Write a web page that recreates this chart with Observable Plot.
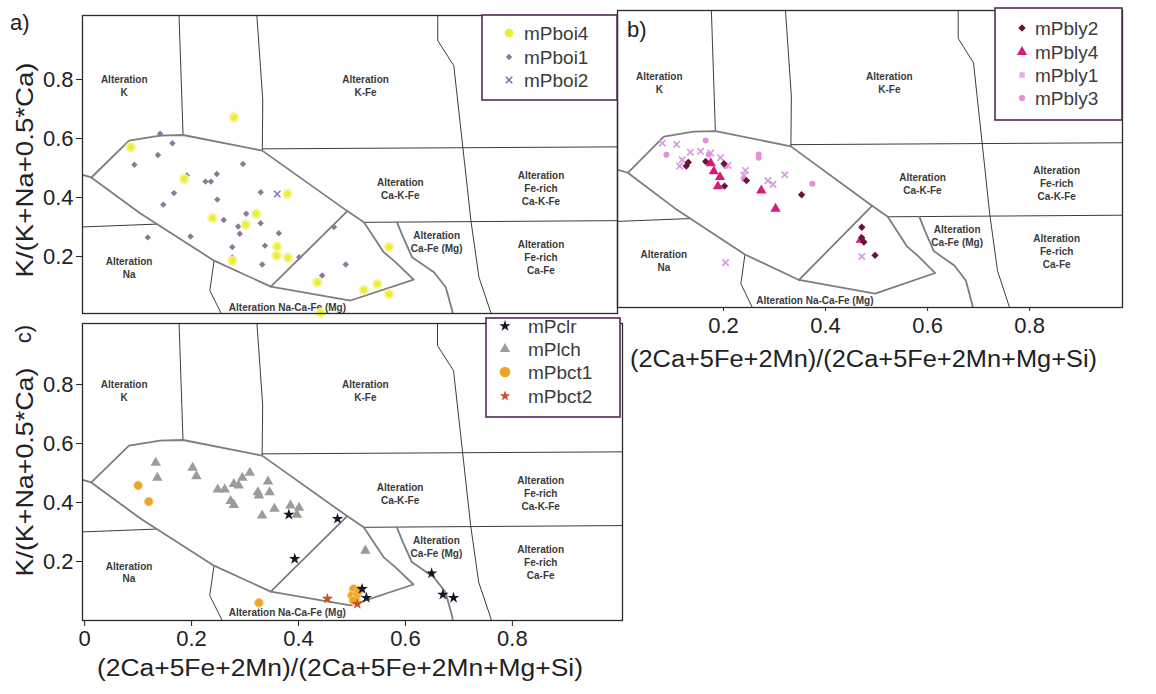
<!DOCTYPE html>
<html><head><meta charset="utf-8">
<script src="https://cdn.jsdelivr.net/npm/d3@7"></script>
<script src="https://cdn.jsdelivr.net/npm/@observablehq/plot@0.6"></script>
<style>
body{margin:0;background:#fff;}
#wrap{position:relative;width:1156px;height:694px;overflow:hidden;background:#fff;}
#wrap > svg{position:absolute;}
</style></head><body><div id="wrap"></div>
<script>
// ---------- tick values ----------
const xTicksC = [0, 0.2, 0.4, 0.6, 0.8];
const xTicksB = [0.2, 0.4, 0.6, 0.8];
const yTicks = [0.2, 0.4, 0.6, 0.8];

// ---------- field boundaries (data units) ----------
const lensOutline = [[0.0125,0.468],[0.083,0.593],[0.141,0.610],[0.184,0.612],[0.332,0.559],[0.491,0.354],[0.522,0.316],[0.559,0.215],[0.581,0.181],[0.615,0.122],[0.497,0.051],[0.348,0.098],[0.242,0.186],[0.105,0.345],[0.022,0.455],[0.0125,0.468]];
const lensDivider = [[0.348,0.098],[0.491,0.354]];
const lensTip = [[-0.01,0.48],[0.0125,0.468]];
const caFeMgEdge = [[0.584,0.316],[0.594,0.271],[0.612,0.198],[0.653,0.147],[0.675,0.096],[0.687,0.017],[0.690,-0.01]];
const vertical1 = [[0.176,1.04],[0.184,0.612]];
const vertical2 = [[0.321,1.04],[0.333,0.73],[0.332,0.559]];
const vertical3 = [[0.660,1.04],[0.660,0.932],[0.690,0.847],[0.707,0.569],[0.722,0.322],[0.737,0.13],[0.763,-0.01]];
const kfeLine = [[0.332,0.565],[1.02,0.572]];
const cafeLine = [[0.522,0.316],[1.02,0.322]];
const naLine = [[-0.01,0.30],[0.135,0.31]];
const naCaFeEdge = [[0.242,0.186],[0.234,0.085],[0.260,-0.01]];

// ---------- field labels ----------
const fieldLabelText = ["Alteration\nK","Alteration\nK-Fe","Alteration\nCa-K-Fe","Alteration\nFe-rich\nCa-K-Fe","Alteration\nCa-Fe (Mg)","Alteration\nFe-rich\nCa-Fe","Alteration\nNa","Alteration Na-Ca-Fe (Mg)"];
const fieldLabelX = [0.074,0.525,0.590,0.853,0.658,0.853,0.083,0.379];
const fieldLabelY = [0.780,0.780,0.432,0.433,0.252,0.200,0.165,0.030];

// ---------- panel a series ----------
const mPboi4 = [[0.279,0.672],[0.086,0.571],[0.186,0.463],[0.379,0.412],[0.239,0.331],[0.301,0.308],[0.321,0.345],[0.276,0.186],[0.360,0.234],[0.359,0.203],[0.380,0.196],[0.569,0.232],[0.435,0.113],[0.522,0.087],[0.547,0.107],[0.569,0.073],[0.441,0.010]];
const mPboi1 = [[0.141,0.616],[0.164,0.584],[0.137,0.544],[0.093,0.511],[0.296,0.514],[0.191,0.475],[0.247,0.480],[0.226,0.454],[0.236,0.454],[0.167,0.415],[0.248,0.393],[0.329,0.418],[0.147,0.376],[0.260,0.324],[0.302,0.345],[0.287,0.302],[0.290,0.277],[0.329,0.313],[0.363,0.279],[0.118,0.265],[0.198,0.268],[0.276,0.232],[0.337,0.237],[0.276,0.198],[0.332,0.173],[0.488,0.173],[0.444,0.136],[0.466,0.300],[0.401,0.198]];
const mPboi2 = [[0.360,0.412]];

// ---------- panel b series ----------
const mPbly1 = [[0.080,0.570],[0.108,0.566],[0.135,0.539],[0.155,0.542],[0.119,0.513],[0.114,0.491],[0.175,0.536],[0.194,0.520],[0.209,0.493],[0.243,0.476],[0.240,0.459],[0.287,0.441],[0.297,0.428],[0.320,0.461],[0.204,0.158],[0.471,0.179]];
const mPbly3 = [[0.088,0.530],[0.165,0.579],[0.171,0.531],[0.269,0.531],[0.269,0.520],[0.204,0.491],[0.240,0.447],[0.374,0.430]];
const mPbly2 = [[0.131,0.504],[0.127,0.491],[0.165,0.507],[0.201,0.499],[0.202,0.422],[0.245,0.441],[0.353,0.392],[0.471,0.280],[0.471,0.244],[0.475,0.229],[0.497,0.183]];
const mPbly4 = [[0.175,0.501],[0.181,0.473],[0.193,0.453],[0.189,0.421],[0.274,0.407],[0.302,0.344],[0.469,0.237]];

// ---------- panel c series ----------
const mPclr = [[0.382,0.359],[0.473,0.345],[0.393,0.209],[0.519,0.107],[0.527,0.077],[0.649,0.160],[0.670,0.088],[0.690,0.077]];
const mPlch = [[0.133,0.535],[0.136,0.484],[0.202,0.518],[0.209,0.489],[0.249,0.444],[0.262,0.444],[0.279,0.463],[0.288,0.458],[0.295,0.484],[0.309,0.501],[0.273,0.405],[0.279,0.392],[0.324,0.435],[0.326,0.424],[0.343,0.471],[0.346,0.435],[0.332,0.356],[0.355,0.379],[0.385,0.390],[0.401,0.382],[0.397,0.359],[0.525,0.237]];
const mPbct1 = [[0.100,0.458],[0.120,0.403],[0.326,0.060],[0.503,0.107],[0.500,0.085],[0.507,0.074],[0.510,0.090],[0.503,0.068],[0.513,0.102]];
const mPbct2 = [[0.454,0.074],[0.510,0.056]];

// ---------- helpers ----------
const FONT = "'Liberation Sans', Arial, sans-serif";
const rows = (pts) => pts.map(([x, y]) => ({x, y}));
const thinLines = [vertical1, vertical2, vertical3, kfeLine, cafeLine, naLine, naCaFeEdge];
const thickLines = [lensOutline, lensDivider, lensTip, caFeMgEdge];
const lineRows = (list) => list.flatMap((pts, i) => pts.map(([x, y]) => ({x, y, id: i})));
const labels = fieldLabelText.map((t, i) => ({t, x: fieldLabelX[i], y: fieldLabelY[i]}));

function fieldMarks() {
  return [
    Plot.line(lineRows(thinLines), {x: "x", y: "y", z: "id", stroke: "#3d3d3d", strokeWidth: 1, clip: true}),
    Plot.line(lineRows(thickLines), {x: "x", y: "y", z: "id", stroke: "#7d7d7d", strokeWidth: 1.8, clip: true, strokeLinejoin: "round"}),
    Plot.text(labels, {x: "x", y: "y", text: "t", fontSize: 10, fontWeight: "bold", fill: "#3a3a3a", lineHeight: 1.3, fontFamily: FONT})
  ];
}
const dot = (pts, o) => Plot.dot(rows(pts), {x: "x", y: "y", ...o});

function makePlot({left, top, width, height, mt, mr, mb, ml, xd, yd, marks}) {
  const p = Plot.plot({
    width, height, marginTop: mt, marginRight: mr, marginBottom: mb, marginLeft: ml,
    x: {domain: xd, axis: null}, y: {domain: yd, axis: null},
    style: {background: "transparent", overflow: "visible", fontFamily: FONT, fontSize: "22px", color: "#222"},
    marks
  });
  p.style.left = left + "px"; p.style.top = top + "px";
  document.getElementById("wrap").appendChild(p);
}

// ---------- panel a ----------
makePlot({left: 0, top: 0, width: 625, height: 320, mt: 15, mr: 8, mb: 7, ml: 82,
  xd: [-0.004, 0.996], yd: [0.007, 1.017],
  marks: [
    ...fieldMarks(),
    dot(mPboi1, {symbol: "diamond2", r: 2.9, fill: "#8a7a98", stroke: "none"}),
    dot(mPboi2, {symbol: "times", r: 3, stroke: "#7c78a8", strokeWidth: 1.5}),
    dot(mPboi4, {r: 4.2, fill: "#eeee2e", stroke: "#f4f4a6", strokeWidth: 2.5, strokeOpacity: 0.8}),
    Plot.frame({stroke: "#2a2a2a", strokeWidth: 1.3}),
    Plot.axisY(yTicks, {tickSize: 6, tickPadding: 3, tickFormat: d3.format(".1f"), label: null, fontSize: 22})
  ]});

// ---------- panel c ----------
makePlot({left: 0, top: 300, width: 630, height: 360, mt: 23, mr: 8, mb: 40, ml: 82,
  xd: [-0.004, 1.006], yd: [0, 1.007],
  marks: [
    ...fieldMarks(),
    dot(mPlch, {symbol: "triangle", r: 3.9, fill: "#9b9b9b"}),
    dot(mPbct1, {r: 4.3, fill: "#eea523", stroke: "#f6cd80", strokeWidth: 1}),
    dot(mPbct2, {symbol: "star", r: 3.6, fill: "#c4532b"}),
    dot(mPclr, {symbol: "star", r: 3.6, fill: "#15152a"}),
    Plot.frame({stroke: "#2a2a2a", strokeWidth: 1.3}),
    Plot.axisY(yTicks, {tickSize: 6, tickPadding: 3, tickFormat: d3.format(".1f"), label: null, fontSize: 22}),
    Plot.axisX(xTicksC, {tickSize: 6, tickPadding: 4, tickFormat: d => d === 0 ? "0" : d3.format(".1f")(d), label: null, fontSize: 22})
  ]});

// ---------- panel b ----------
makePlot({left: 600, top: 0, width: 556, height: 340, mt: 10, mr: 34, mb: 33, ml: 17,
  xd: [-0.0078, 0.982], yd: [0.003, 1.028],
  marks: [
    ...fieldMarks(),
    dot(mPbly1, {symbol: "times", r: 3, stroke: "#da98e4", strokeWidth: 1.7}),
    dot(mPbly3, {r: 3, fill: "#e68fde"}),
    dot(mPbly4, {symbol: "triangle", r: 3.8, fill: "#d61b7a"}),
    dot(mPbly2, {symbol: "diamond2", r: 3.3, fill: "#6c1139", stroke: "none"}),
    Plot.frame({stroke: "#2a2a2a", strokeWidth: 1.3}),
    Plot.axisX(xTicksB, {tickSize: 4, tickPadding: 6, tickFormat: d3.format(".1f"), label: null, fontSize: 22})
  ]});

// ---------- overlay: titles, panel letters, legends ----------
const ov = d3.create("svg").attr("width", 1156).attr("height", 694)
  .style("left", "0px").style("top", "0px").style("pointer-events", "none")
  .style("font-family", FONT);

const yTitle = "K/(K+Na+0.5*Ca)";
const xTitle = "(2Ca+5Fe+2Mn)/(2Ca+5Fe+2Mn+Mg+Si)";
ov.append("text").attr("x", 10).attr("y", 30).attr("font-size", 22).attr("fill", "#222").text("a)");
ov.append("text").attr("x", 627).attr("y", 37).attr("font-size", 22).attr("fill", "#222").text("b)");
ov.append("text").attr("transform", "translate(31,334) rotate(-90)").attr("text-anchor", "middle").attr("font-size", 22).attr("fill", "#222").text("c)");
[[170, 215], [472, 209]].forEach(([cy, len]) => {
  ov.append("text").attr("transform", `translate(33,${cy}) rotate(-90)`).attr("text-anchor", "middle")
    .attr("font-size", 24).attr("fill", "#222").attr("textLength", len).attr("lengthAdjust", "spacingAndGlyphs").text(yTitle);
});
ov.append("text").attr("x", 630).attr("y", 367).attr("font-size", 23).attr("fill", "#222")
  .attr("textLength", 467).attr("lengthAdjust", "spacingAndGlyphs").text(xTitle);
ov.append("text").attr("x", 97).attr("y", 676).attr("font-size", 23).attr("fill", "#222")
  .attr("textLength", 486).attr("lengthAdjust", "spacingAndGlyphs").text(xTitle);

const legendA = {box: [482, 15, 135, 85], sx: 509, tx: 524, rowsY: [33, 57, 80],
  items: [["mPboi4", d3.symbolCircle, 60, "#eeee2e"], ["mPboi1", d3.symbolDiamond2, 26, "#8a7a98"], ["mPboi2", d3.symbolTimes, 30, "#7c78a8"]]};
const legendB = {box: [995, 8, 127, 112], sx: 1022, tx: 1035, rowsY: [28, 52, 75, 98],
  items: [["mPbly2", d3.symbolDiamond2, 36, "#6c1139"], ["mPbly4", d3.symbolTriangle, 45, "#d61b7a"], ["mPbly1", d3.symbolSquare, 30, "#e2aee6"], ["mPbly3", d3.symbolCircle, 30, "#e68fde"]]};
const legendC = {box: [486, 318, 134, 99], sx: 505, tx: 528, rowsY: [326, 349, 372, 396],
  items: [["mPclr", d3.symbolStar, 40, "#15152a"], ["mPlch", d3.symbolTriangle, 45, "#9b9b9b"], ["mPbct1", d3.symbolCircle, 90, "#eea523"], ["mPbct2", d3.symbolStar, 35, "#c4532b"]]};

[legendA, legendB, legendC].forEach(L => {
  const [bx, by, bw, bh] = L.box;
  ov.append("rect").attr("x", bx).attr("y", by).attr("width", bw).attr("height", bh)
    .attr("fill", "#fff").attr("stroke", "#4e2d52").attr("stroke-width", 1.6);
  L.items.forEach(([name, sym, size, color], i) => {
    const y = L.rowsY[i];
    const path = d3.symbol().type(sym).size(size)();
    const g = ov.append("path").attr("d", path).attr("transform", `translate(${L.sx},${y})`);
    if (sym === d3.symbolTimes) g.attr("fill", "none").attr("stroke", color).attr("stroke-width", 1.6);
    else g.attr("fill", color);
    ov.append("text").attr("x", L.tx).attr("y", y + 7).attr("font-size", 19).attr("fill", "#3c3c3c").text(name);
  });
});
document.getElementById("wrap").appendChild(ov.node());
</script></body></html>
